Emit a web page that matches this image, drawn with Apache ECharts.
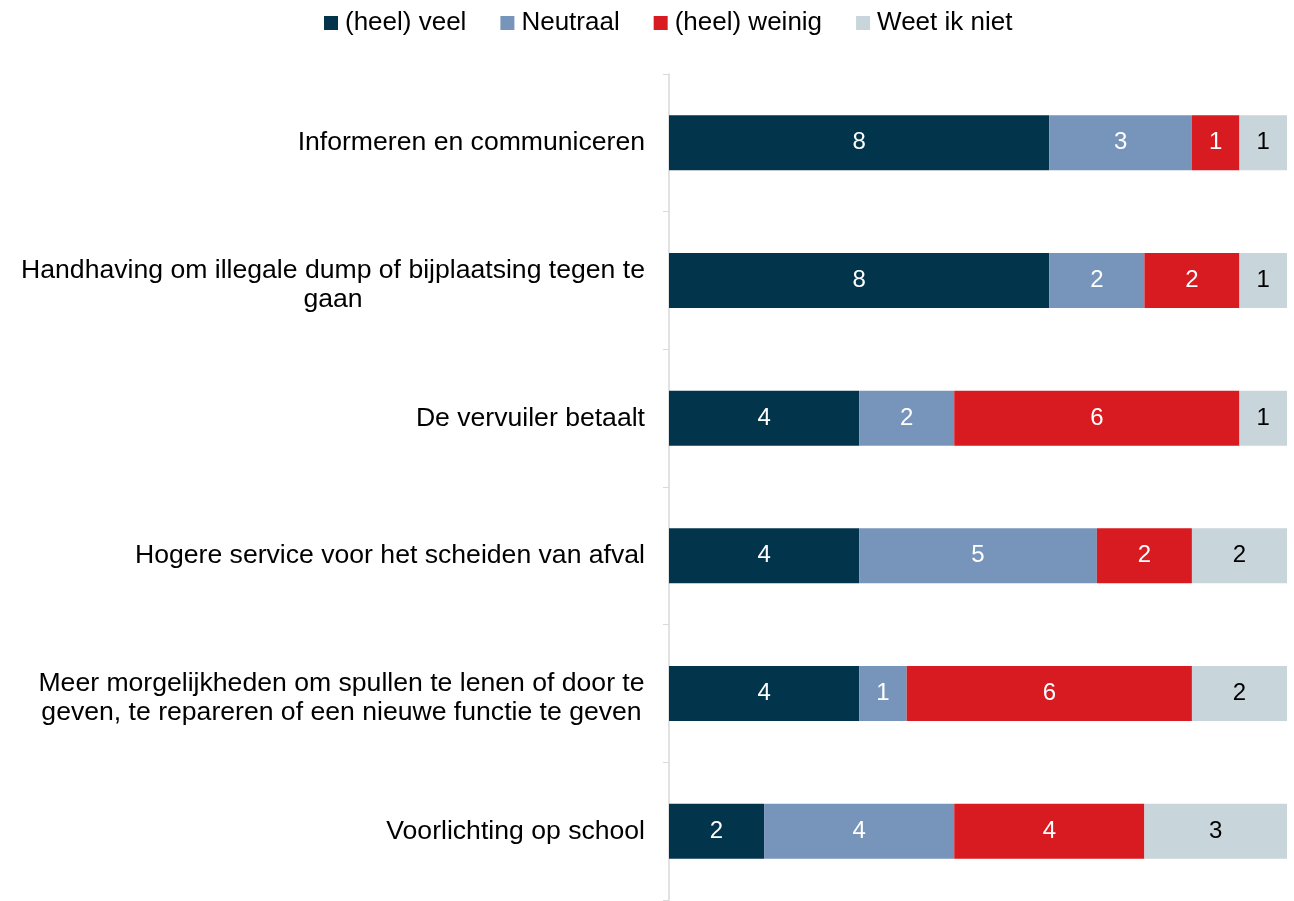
<!DOCTYPE html>
<html>
<head>
<meta charset="utf-8">
<script src="https://cdn.jsdelivr.net/npm/echarts@6/dist/echarts.min.js"></script>
<style>
  html, body { margin: 0; padding: 0; background: #fff; }
  #main { width: 1294px; height: 901px; }
</style>
</head>
<body>
<div id="main"></div>
<script>
var categories = [
  'Informeren en communiceren',
  'Handhaving om illegale dump of bijplaatsing tegen te\ngaan',
  'De vervuiler betaalt',
  'Hogere service voor het scheiden van afval',
  'Meer morgelijkheden om spullen te lenen of door te\ngeven, te repareren of een nieuwe functie te geven',
  'Voorlichting op school'
]
var veel = [8, 8, 4, 4, 4, 2]
var neutraal = [3, 2, 2, 5, 1, 4]
var weinig = [1, 2, 6, 2, 6, 4]
var weetNiet = [1, 1, 1, 2, 2, 3]

var FONT = 'Liberation Sans, Arial, sans-serif'
var LABEL_SIZE = 26.6

// measure the first line so two-line labels can be centred under it
var ctx = document.createElement('canvas').getContext('2d')
ctx.font = LABEL_SIZE + 'px ' + FONT
var rich = {}
function labelFmt (val, idx) {
  if (val.indexOf('\n') < 0) return val
  var lines = val.split('\n')
  rich['c' + idx] = {
    width: Math.ceil(ctx.measureText(lines[0]).width),
    align: 'center',
    padding: [10, 0, 0, 0],
    fontSize: LABEL_SIZE,
    lineHeight: 29,
    fontFamily: FONT,
    color: '#000'
  }
  return lines.map(function (l) { return '{c' + idx + '|' + l + '}' }).join('\n')
}
categories.forEach(labelFmt)

function bar (name, data, color, labelColor) {
  return {
    name: name,
    type: 'bar',
    stack: 'total',
    data: data,
    barWidth: 55,
    itemStyle: { color: color },
    label: {
      show: true,
      position: 'inside',
      color: labelColor,
      fontSize: 24,
      fontFamily: FONT
    }
  }
}

var chart = echarts.init(document.getElementById('main'))
chart.setOption({
  animation: false,
  legend: {
    top: 5,
    left: 319,
    itemWidth: 14,
    itemHeight: 14,
    itemGap: 34,
    icon: 'rect',
    textStyle: { fontSize: 26, fontFamily: FONT, color: '#000', padding: [0, 0, 0, 2] },
    data: ['(heel) veel', 'Neutraal', '(heel) weinig', 'Weet ik niet']
  },
  grid: {
    left: 669,
    right: 7,
    top: 74,
    bottom: 1
  },
  xAxis: {
    type: 'value',
    min: 0,
    max: 13,
    show: false
  },
  yAxis: {
    type: 'category',
    inverse: true,
    data: categories,
    axisLine: { lineStyle: { color: '#d9d9d9', width: 1.5 } },
    axisTick: { show: true, length: 6, lineStyle: { color: '#d9d9d9' } },
    axisLabel: {
      margin: 24,
      fontSize: LABEL_SIZE,
      lineHeight: 29,
      fontFamily: FONT,
      color: '#000',
      formatter: labelFmt,
      rich: rich
    }
  },
  series: [
    bar('(heel) veel', veel, '#02344c', '#fff'),
    bar('Neutraal', neutraal, '#7795ba', '#fff'),
    bar('(heel) weinig', weinig, '#d81a21', '#fff'),
    bar('Weet ik niet', weetNiet, '#c8d5db', '#000')
  ]
})
</script>
</body>
</html>
